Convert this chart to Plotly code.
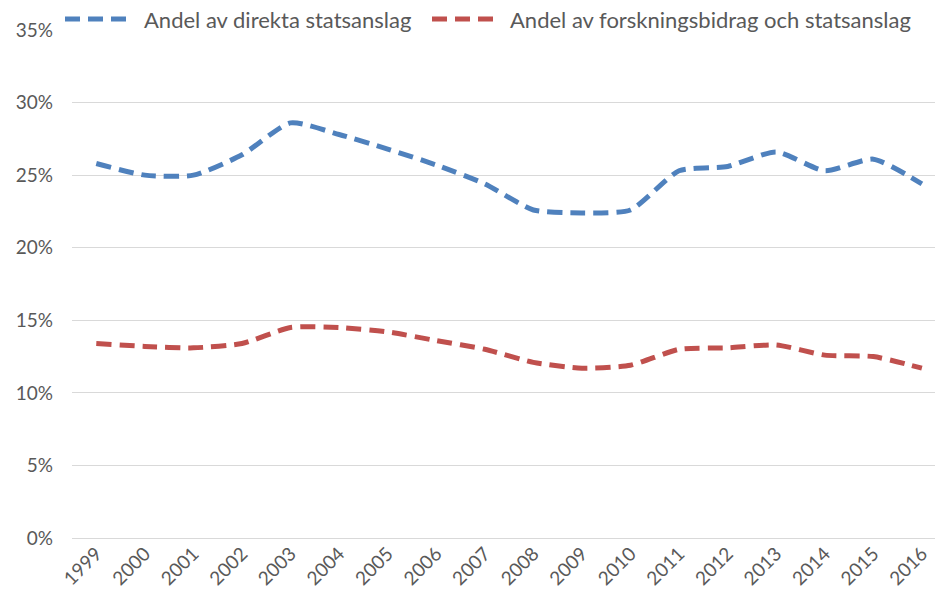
import plotly.graph_objects as go

years = [str(y) for y in range(1999, 2017)]
direkta = [25.8, 25.0, 25.0, 26.4, 28.6, 27.8, 26.8, 25.7, 24.4, 22.6, 22.4, 22.6, 25.3, 25.6, 26.6, 25.3, 26.1, 24.4]
forskning = [13.4, 13.2, 13.1, 13.4, 14.5, 14.5, 14.2, 13.6, 13.0, 12.1, 11.7, 11.9, 13.0, 13.1, 13.3, 12.6, 12.5, 11.7]
series_names = ["Andel av direkta statsanslag", "Andel av forskningsbidrag och statsanslag"]
colors = ["#4F81BD", "#C0504D"]
y_ticks = [0, 5, 10, 15, 20, 25, 30, 35]

W, H = 937, 604
ML, MR, MT, MB = 72, 2, 30, 66
FONT = "Lato"
TXT = "#595959"

fig = go.Figure()
for name, vals, c in zip(series_names, [direkta, forskning], colors):
    fig.add_trace(go.Scatter(
        x=list(range(len(years))), y=vals, mode="lines", name=name,
        line=dict(color=c, width=5, dash="15px,8px", shape="spline", smoothing=0.6),
        showlegend=False, hoverinfo="x+y"))

# custom legend (pixel positions of the reference)
leg_y = 1 + (MT - 19) / (H - MT - MB)
def px2paper(x):
    return (x - ML) / (W - ML - MR)
legend_items = [(65, 128, 142), (432, 495, 508)]
for (x0, x1, xt), name, c in zip(legend_items, series_names, colors):
    fig.add_shape(type="line", xref="paper", yref="paper",
                  x0=px2paper(x0), x1=px2paper(x1), y0=leg_y, y1=leg_y,
                  line=dict(color=c, width=5, dash="15px,8px"))
    fig.add_annotation(xref="paper", yref="paper", x=px2paper(xt), y=leg_y,
                       text=name, showarrow=False, xanchor="left", yanchor="middle",
                       font=dict(family=FONT, size=22, color=TXT))

fig.update_layout(
    width=W, height=H,
    margin=dict(l=ML, r=MR, t=MT, b=MB, autoexpand=False),
    paper_bgcolor="white", plot_bgcolor="white",
    font=dict(family=FONT, size=19, color=TXT),
)
fig.update_xaxes(
    tickmode="array", tickvals=list(range(len(years))), ticktext=years,
    range=[-0.5, 17.27], tickangle=-45, showgrid=False, zeroline=False,
    showline=False, ticks="", automargin=False,
    tickfont=dict(family=FONT, size=19, color=TXT),
)
fig.update_yaxes(
    range=[0, 35], tickmode="array", tickvals=y_ticks,
    ticktext=[f"{v}%" for v in y_ticks],
    showgrid=True, gridcolor="#D9D9D9", gridwidth=1.3,
    zeroline=True, zerolinecolor="#D9D9D9", zerolinewidth=1.3,
    showline=False, ticks="", ticklabelstandoff=18, automargin=False,
    tickfont=dict(family=FONT, size=19, color=TXT),
)
fig.write_html("out.html",
               config={"displayModeBar": False},
               post_script="document.body.style.margin='0';document.body.style.overflow='hidden';")
